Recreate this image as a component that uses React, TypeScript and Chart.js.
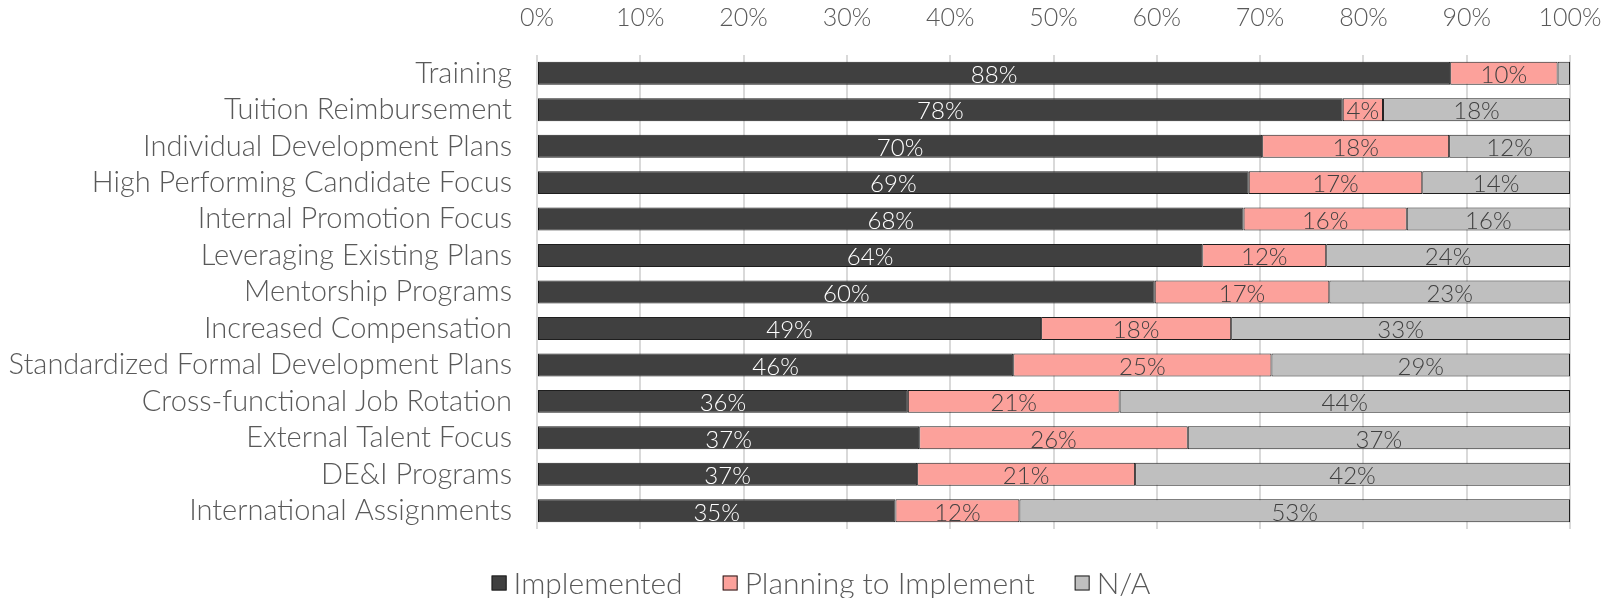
import React, { useEffect, useRef } from "react";
import { Chart, registerables } from "chart.js";

Chart.register(...registerables);

const categories = [
  "Training",
  "Tuition Reimbursement",
  "Individual Development Plans",
  "High Performing Candidate Focus",
  "Internal Promotion Focus",
  "Leveraging Existing Plans",
  "Mentorship Programs",
  "Increased Compensation",
  "Standardized Formal Development Plans",
  "Cross-functional Job Rotation",
  "External Talent Focus",
  "DE&I Programs",
  "International Assignments",
];

const implemented = [88.4, 78.0, 70.2, 68.9, 68.4, 64.4, 59.8, 48.8, 46.1, 35.9, 37.0, 36.8, 34.7];
const planning = [10.4, 3.9, 18.1, 16.8, 15.8, 12.0, 16.9, 18.4, 25.0, 20.5, 26.0, 21.1, 12.0];
const notApplicable = [1.2, 18.1, 11.7, 14.3, 15.8, 23.6, 23.3, 32.8, 28.9, 43.6, 37.0, 42.1, 53.3];

const seriesNames = ["Implemented", "Planning to Implement", "N/A"];
const seriesColors = ["#404040", "#FCA19B", "#BFBFBF"];
const labelColors = ["#FFFFFF", "#404040", "#404040"];

const FONT = "Lato";
const TEXT = "#595959";

const barLabels = {
  id: "barLabels",
  afterDatasetsDraw(chart: any) {
    const ctx = chart.ctx;
    ctx.save();
    ctx.font = `300 24px ${FONT}`;
    ctx.textAlign = "center";
    ctx.textBaseline = "middle";
    chart.data.datasets.forEach((ds: any, i: number) => {
      const meta = chart.getDatasetMeta(i);
      meta.data.forEach((el: any, j: number) => {
        const v = ds.data[j];
        if (v < 3) return;
        const p = el.getProps(["x", "base", "y"], true);
        ctx.fillStyle = labelColors[i];
        ctx.fillText(Math.round(v) + "%", (p.x + p.base) / 2, p.y + 2);
      });
    });
    ctx.restore();
  },
};

const customLegend = {
  id: "customLegend",
  afterDraw(chart: any) {
    const ctx = chart.ctx;
    ctx.save();
    ctx.font = `300 30px ${FONT}`;
    ctx.textBaseline = "middle";
    ctx.textAlign = "left";
    const box = 15;
    const gap = 7;
    const spacing = 40;
    const widths = seriesNames.map((n) => box + gap + ctx.measureText(n).width);
    const total = widths.reduce((a, b) => a + b, 0) + spacing * (seriesNames.length - 1);
    let x = chart.width / 2 + 14 - total / 2;
    const yc = 583;
    seriesNames.forEach((n, i) => {
      ctx.fillStyle = seriesColors[i];
      ctx.fillRect(x, yc - box / 2, box, box);
      ctx.strokeStyle = "#1E1E1E";
      ctx.lineWidth = 1;
      ctx.strokeRect(x + 0.5, yc - box / 2 + 0.5, box - 1, box - 1);
      ctx.fillStyle = TEXT;
      ctx.fillText(n, x + box + gap, yc + 1);
      x += widths[i] + spacing;
    });
    ctx.restore();
  },
};

export default function App() {
  const ref = useRef<HTMLCanvasElement | null>(null);
  useEffect(() => {
    document.body.style.margin = "0";
    const canvas = ref.current!;
    const chart = new Chart(canvas, {
      type: "bar",
      data: {
        labels: categories,
        datasets: [implemented, planning, notApplicable].map((d, i) => ({
          label: seriesNames[i],
          data: d,
          backgroundColor: seriesColors[i],
          borderColor: "#1E1E1E",
          borderWidth: 1,
          borderSkipped: false,
          barPercentage: 0.63,
          categoryPercentage: 1,
        })),
      },
      options: {
        indexAxis: "y",
        responsive: false,
        animation: false,
        layout: { padding: { left: 0, right: 44, top: 0, bottom: 69 } },
        scales: {
          x: {
            position: "top",
            stacked: true,
            min: 0,
            max: 100,
            border: { display: false },
            grid: { color: "#D9D9D9", lineWidth: 2, drawTicks: false },
            ticks: {
              stepSize: 10,
              padding: 22,
              color: TEXT,
              font: { family: FONT, size: 25, weight: "300" },
              callback: (v: any) => v + "%",
            },
            afterFit: (s: any) => {
              s.height = 55;
              s.paddingLeft = 0;
              s.paddingRight = 0;
            },
          },
          y: {
            stacked: true,
            border: { display: false },
            grid: { display: false, drawTicks: false },
            ticks: {
              autoSkip: false,
              padding: 25,
              color: TEXT,
              font: { family: FONT, size: 29, weight: "300" },
            },
            afterFit: (s: any) => {
              s.width = 537;
              s.paddingTop = 0;
              s.paddingBottom = 0;
            },
          },
        },
        plugins: {
          legend: { display: false },
          tooltip: { enabled: false },
        },
      },
      plugins: [barLabels, customLegend],
    } as any);
    return () => chart.destroy();
  }, []);
  return (
    <div style={{ width: 1614, height: 598 }}>
      <canvas ref={ref} width={1614} height={598} />
    </div>
  );
}
